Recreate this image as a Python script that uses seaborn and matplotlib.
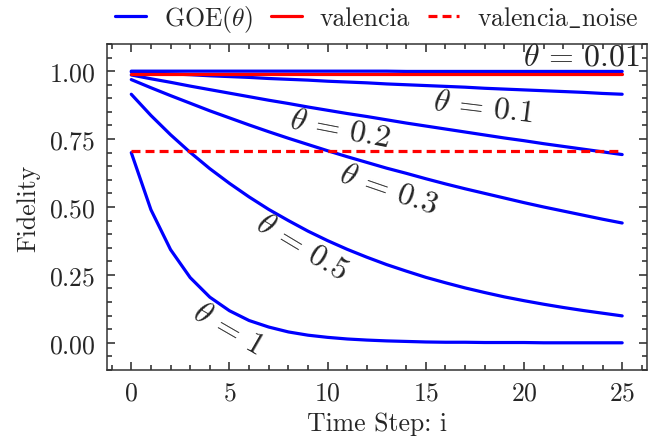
import matplotlib
matplotlib.use("Agg")
import matplotlib.pyplot as plt
from matplotlib.ticker import MultipleLocator
import seaborn as sns
import pandas as pd

# time steps and fidelity values
steps = list(range(26))

theta_labels = ["0.01", "0.1", "0.2", "0.3", "0.5", "1"]

goe_001 = [1.000, 1.000, 1.000, 1.000, 1.000, 1.000, 1.000, 1.000, 1.000,
           1.000, 1.000, 1.000, 1.000, 1.000, 0.999, 0.999, 0.999, 0.999,
           0.999, 0.999, 0.999, 0.999, 0.999, 0.999, 0.999, 0.999]
goe_01 = [0.997, 0.993, 0.990, 0.987, 0.983, 0.980, 0.977, 0.973, 0.970,
          0.967, 0.963, 0.960, 0.957, 0.953, 0.950, 0.947, 0.944, 0.941,
          0.937, 0.934, 0.931, 0.928, 0.925, 0.922, 0.918, 0.915]
goe_02 = [0.986, 0.972, 0.959, 0.945, 0.932, 0.919, 0.906, 0.893, 0.881,
          0.868, 0.856, 0.844, 0.833, 0.821, 0.809, 0.798, 0.787, 0.776,
          0.765, 0.754, 0.744, 0.733, 0.723, 0.713, 0.703, 0.693]
goe_03 = [0.969, 0.939, 0.910, 0.882, 0.854, 0.828, 0.802, 0.777, 0.753,
          0.730, 0.707, 0.685, 0.664, 0.643, 0.624, 0.604, 0.585, 0.567,
          0.550, 0.533, 0.516, 0.500, 0.485, 0.470, 0.455, 0.441]
goe_05 = [0.915, 0.837, 0.766, 0.701, 0.641, 0.587, 0.537, 0.491, 0.450,
          0.411, 0.376, 0.344, 0.315, 0.288, 0.264, 0.241, 0.221, 0.202,
          0.185, 0.169, 0.155, 0.142, 0.130, 0.119, 0.109, 0.099]
goe_1 = [0.700, 0.490, 0.343, 0.240, 0.168, 0.118, 0.082, 0.058, 0.040,
         0.028, 0.020, 0.014, 0.010, 0.007, 0.005, 0.003, 0.002, 0.002,
         0.001, 0.001, 0.001, 0.000, 0.000, 0.000, 0.000, 0.000]

valencia = [0.99] * 26
valencia_noise = [0.705] * 26

goe = [goe_001, goe_01, goe_02, goe_03, goe_05, goe_1]

# label placement (x, y, rotation) for each theta annotation
label_pos = [(22.9, 1.052, 0), (17.9, 0.868, -7), (10.6, 0.79, -11),
             (13.1, 0.567, -19), (8.7, 0.355, -31), (4.9, 0.052, -30)]

sns.set_style("ticks")
plt.rcParams['font.family'] = 'serif'
plt.rcParams['font.serif'] = ['cmr10', 'DejaVu Serif']
plt.rcParams['mathtext.fontset'] = 'cm'
plt.rcParams['axes.formatter.use_mathtext'] = True
plt.rcParams['font.size'] = 18.5

fig = plt.figure(figsize=(6.65, 4.39), dpi=100)
ax = fig.add_axes([0.1605, 0.155, 0.812, 0.7425])

rows = []
for lab, vals in zip(theta_labels, goe):
    for t, v in zip(steps, vals):
        rows.append({"t": t, "F": v, "theta": lab})
df = pd.DataFrame(rows)

sns.lineplot(data=df, x="t", y="F", units="theta", estimator=None,
             color="blue", lw=2.3, ax=ax, legend=False)
sns.lineplot(x=steps, y=valencia, color="red", lw=2.3, ax=ax, legend=False)
sns.lineplot(x=steps, y=valencia_noise, color="red", lw=2.3, ax=ax,
             legend=False)
ax.lines[-1].set_dashes((2.8, 1.6))

for lab, (x, y, rot) in zip(theta_labels, label_pos):
    ax.text(x, y, r"$\theta\,=\,%s$" % lab, fontsize=23, ha="center",
            va="center", rotation=rot, rotation_mode="anchor")

handles = [ax.lines[0], ax.lines[-2], ax.lines[-1]]
ax.legend(handles, [r"GOE($\theta$)", "valencia", r"$\mathrm{valencia\_noise}$"],
          loc="lower center", bbox_to_anchor=(0.5, 0.99), ncol=3,
          frameon=False, handlelength=1.2, handletextpad=0.7,
          columnspacing=0.7, borderaxespad=0.1, fontsize=18.5)

ax.set_ylim(-0.1, 1.1)
ax.xaxis.set_major_locator(MultipleLocator(5))
ax.xaxis.set_minor_locator(MultipleLocator(1))
ax.yaxis.set_major_locator(MultipleLocator(0.25))
ax.yaxis.set_minor_locator(MultipleLocator(0.05))
ax.tick_params(which="both", direction="in", top=True, right=True,
               width=1.1, pad=8)
ax.tick_params(which="major", length=6)
ax.tick_params(which="minor", length=3.3)
for s in ax.spines.values():
    s.set_linewidth(1.1)
    s.set_color("#333333")

ax.set_xlabel("Time Step: i", labelpad=5)
ax.set_ylabel("Fidelity", labelpad=6)

fig.savefig("out.png", dpi=100)
